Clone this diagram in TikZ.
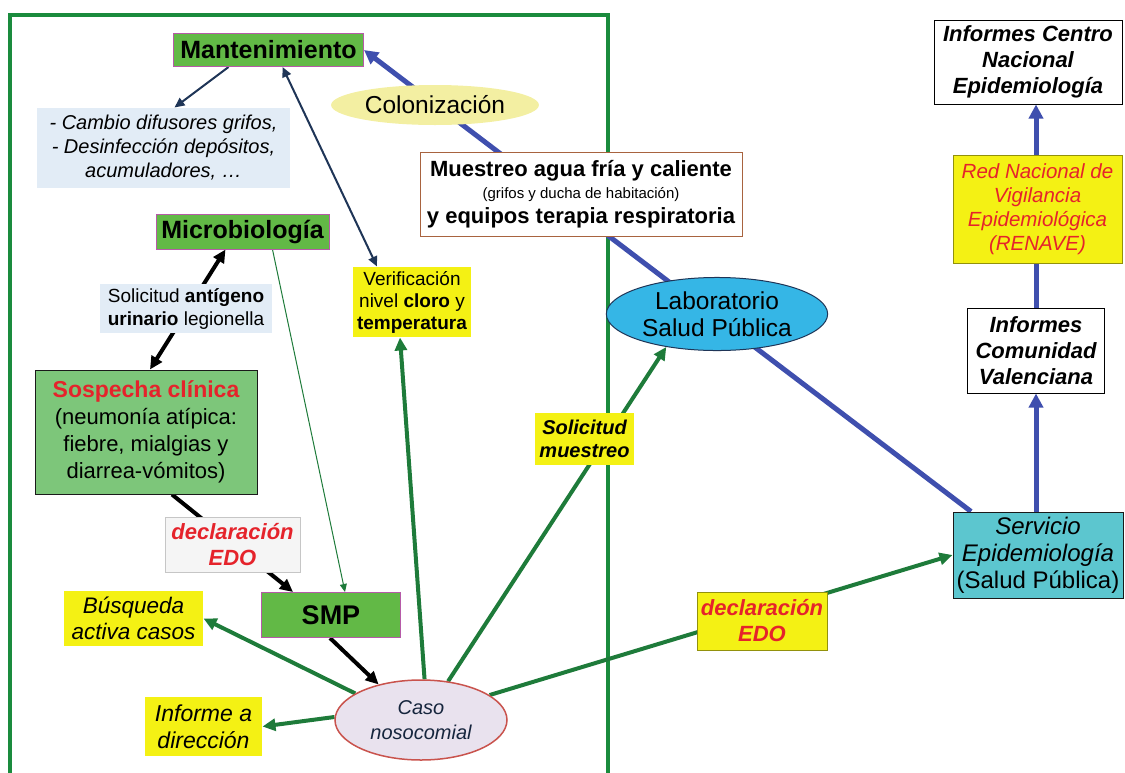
\documentclass[tikz,border=0pt]{standalone}
\usepackage{fontspec}
\setmainfont{Liberation Sans}
\usepackage{tikz}
\usetikzlibrary{arrows.meta,positioning,shapes.geometric,backgrounds}
\definecolor{framegreen}{HTML}{1A8B3D}
\definecolor{arrowgreen}{HTML}{1E7B3A}
\definecolor{leaf}{HTML}{62B946}
\definecolor{leafpale}{HTML}{7DC67A}
\definecolor{plum}{HTML}{B65AA8}
\definecolor{lemon}{HTML}{F4F114}
\definecolor{cream}{HTML}{F3EFA2}
\definecolor{mist}{HTML}{E2ECF6}
\definecolor{sky}{HTML}{35B6E6}
\definecolor{lagoon}{HTML}{5CC6CF}
\definecolor{lilac}{HTML}{E9E2EE}
\definecolor{brick}{HTML}{C9534D}
\definecolor{bluearrow}{HTML}{3F4FAE}
\definecolor{navy}{HTML}{1F3557}
\definecolor{alert}{HTML}{E5232B}
\definecolor{sienna}{HTML}{A8633F}
\definecolor{ink}{HTML}{1A1A1A}
\newcommand{\fsz}[2]{\fontsize{#1}{#2}\selectfont}
\tikzset{
  >={Triangle[length=13pt,width=12pt]},
  box/.style={rectangle,align=center,inner sep=1pt,line width=1pt},
  unit/.style={box,fill=leaf,draw=plum,font=\bfseries\fsz{25}{28}},
  note/.style={box,fill=lemon},
  memo/.style={box,fill=mist},
  report/.style={box,draw=black,fill=white,font=\bfseries\itshape\fsz{22}{26}},
  greenflow/.style={->,line width=4pt,color=arrowgreen},
  blackflow/.style={line width=4pt,color=black},
  blueflow/.style={->,line width=5pt,color=bluearrow,>={Triangle[length=14pt,width=14pt]}},
  thinflow/.style={>={Triangle[length=10pt,width=9pt]},line width=2pt,color=navy},
}

\begin{document}
\begin{tikzpicture}[x=1pt,y=-1pt]
  \useasboundingbox (0,0) rectangle (1125,772);

  % hospital side
  \node[unit,minimum width=190pt,minimum height=33pt] (mant) at (268.5,50) {Mantenimiento};
  \node[ellipse,fill=cream,minimum width=180pt,minimum height=40pt,font=\fsz{24.5}{27}]
    (colon) at (435,105) {Colonización};
  \node[memo,minimum width=253pt,minimum height=80pt,font=\itshape\fsz{20}{24}]
    (cambio) at (163.5,148) {- Cambio difusores grifos,\\- Desinfección depósitos,\\acumuladores, …};
  \node[box,draw=sienna,fill=white,minimum width=322pt,minimum height=84pt,font=\bfseries\fsz{22}{25}]
    (muest) at (581,194) {Muestreo agua fría y caliente\\[-3pt]{\mdseries\fsz{15}{16}(grifos y ducha de habitación)}\\y equipos terapia respiratoria};
  \node[unit,minimum width=173pt,minimum height=35pt] (micro) at (242.5,231.5) {Microbiología};
  \node[memo,minimum width=172pt,minimum height=49pt,font=\fsz{19}{23}]
    (solant) at (186,308.5) {Solicitud \textbf{antígeno}\\\textbf{urinario} legionella};
  \node[note,minimum width=118pt,minimum height=70pt,font=\fsz{19}{22}]
    (verif) at (412,302) {Verificación\\nivel \textbf{cloro} y\\\textbf{temperatura}};
  \node[box,draw=ink,fill=leafpale,minimum width=222pt,minimum height=124pt,font=\fsz{22}{27}]
    (sosp) at (146,432) {{\bfseries\fsz{23}{27}\color{alert}Sospecha clínica}\\(neumonía atípica:\\fiebre, mialgias y\\diarrea-vómitos)};
  \node[box,draw=gray!45,fill=gray!8,minimum width=135pt,minimum height=55pt,font=\bfseries\itshape\fsz{22}{26},text=alert]
    (decl1) at (232.5,544.5) {declaración\\EDO};
  \node[unit,minimum width=139pt,minimum height=45pt,font=\bfseries\fsz{27}{30}] (smp) at (331,615) {SMP};
  \node[note,minimum width=139pt,minimum height=55pt,font=\itshape\fsz{22.5}{26}]
    (busq) at (133.5,618.5) {Búsqueda\\activa casos};
  \node[ellipse,draw=brick,line width=1.5pt,fill=lilac,minimum width=172pt,minimum height=80pt,align=center,font=\itshape\fsz{20}{25},text=navy!70!black]
    (caso) at (421,720) {Caso\\nosocomial};
  \node[note,minimum width=117pt,minimum height=59pt,font=\itshape\fsz{23}{27}]
    (infdir) at (203.5,726.5) {Informe a\\dirección};

  % public health side
  \node[ellipse,draw=navy,line width=1pt,fill=sky,minimum width=200pt,minimum height=72pt,align=center,font=\fsz{24.5}{27}]
    (lab) at (717,314) {Laboratorio\\Salud Pública};
  \node[note,minimum width=99pt,minimum height=52pt,font=\bfseries\itshape\fsz{20}{23}]
    (solmu) at (584.5,439) {Solicitud\\muestreo};
  \node[note,draw=lemon!60!black,minimum width=130pt,minimum height=58pt,font=\bfseries\itshape\fsz{22}{26},text=alert]
    (decl2) at (762,621) {declaración\\EDO};
  \node[box,draw=ink,fill=lagoon,minimum width=170pt,minimum height=86pt,font=\fsz{24}{27}]
    (serv) at (1038,555) {{\itshape Servicio}\\{\itshape Epidemiología}\\(Salud Pública)};
  \node[report,minimum width=137pt,minimum height=85pt] (icv) at (1036,350.5) {Informes\\Comunidad\\Valenciana};
  \node[note,draw=lemon!60!black,minimum width=169pt,minimum height=108pt,font=\itshape\fsz{20.5}{24},text=alert]
    (renave) at (1037.5,209) {Red Nacional de\\Vigilancia\\Epidemiológica\\(RENAVE)};
  \node[report,minimum width=188pt,minimum height=84pt] (icn) at (1028,62) {Informes Centro\\Nacional\\Epidemiología};

  \begin{scope}[on background layer]
    \draw[framegreen,line width=4pt] (10,15) rectangle (608,800);
    % blue chain
    \draw[blueflow] ([xshift=-67pt]serv.north) -- (mant.east);
    \draw[blueflow] (serv.north -| icv.north) -- (icv.south);
    \draw[blueflow] (icv.north) -- (icv.north |- icn.south);
    % maintenance
    \draw[thinflow,->] ([xshift=-40pt]mant.south) -- ([xshift=11pt]cambio.north);
    \draw[thinflow,<->] ([xshift=14pt]mant.south) -- ([xshift=-35pt]verif.north);
    % clinical path
    \draw[blackflow,<->] ([xshift=-17pt]micro.south) -- ([xshift=4pt]sosp.north);
    \draw[->,line width=1pt,color=arrowgreen,>={Triangle[length=8pt,width=7pt]}]
      ([xshift=30pt]micro.south) -- ([xshift=14pt]smp.north);
    \draw[blackflow,->] ([xshift=26pt]sosp.south) -- ([xshift=-38pt]smp.north);
    \draw[blackflow,->] ([xshift=-1pt]smp.south) -- (caso.140);
    % from the case
    \draw[greenflow] (caso.158) -- (busq.east);
    \draw[greenflow] (caso.178) -- (infdir.east);
    \draw[greenflow] (caso.85) -- ([xshift=-12pt]verif.south);
    \draw[greenflow] (caso.55) -- (lab.213);
    \draw[greenflow] (caso.20) -- (serv.west);
  \end{scope}
\end{tikzpicture}
\end{document}
